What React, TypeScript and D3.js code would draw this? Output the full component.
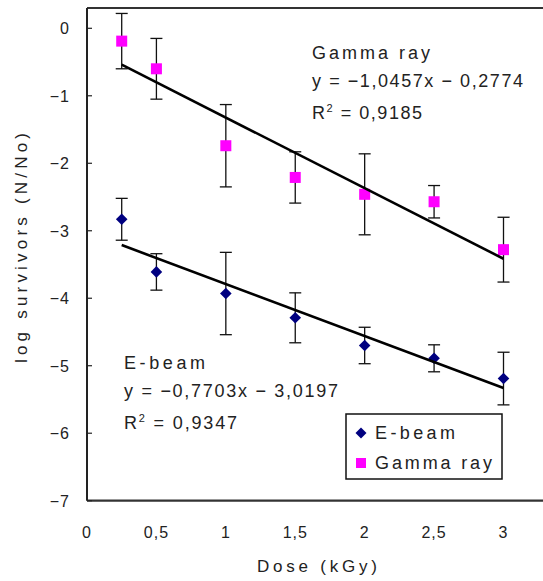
import React from "react";
import * as d3 from "d3";

const doses = [0.25, 0.5, 1, 1.5, 2, 2.5, 3];
const gammaMeans = [-0.19, -0.6, -1.74, -2.21, -2.46, -2.57, -3.28];
const gammaErr = [0.41, 0.45, 0.61, 0.38, 0.6, 0.24, 0.48];
const ebeamMeans = [-2.83, -3.61, -3.93, -4.29, -4.7, -4.89, -5.19];
const ebeamErr = [0.31, 0.27, 0.61, 0.37, 0.27, 0.2, 0.39];
const gammaFit = { slope: -1.0457, intercept: -0.2774, r2: "0,9185", eq: "y = −1,0457x − 0,2774" };
const ebeamFit = { slope: -0.7703, intercept: -3.0197, r2: "0,9347", eq: "y = −0,7703x − 3,0197" };
const xTickValues = [0, 0.5, 1, 1.5, 2, 2.5, 3];
const xTickLabels = ["0", "0,5", "1", "1,5", "2", "2,5", "3"];
const yTickValues = [0, -1, -2, -3, -4, -5, -6, -7];
const yTickLabels = ["0", "−1", "−2", "−3", "−4", "−5", "−6", "−7"];
const seriesNames = ["E-beam", "Gamma ray"];
const xTitle = "Dose (kGy)";
const yTitle = "log survivors (N/No)";

const W = 543;
const H = 581;
const FONT = "'Liberation Sans', Arial, sans-serif";

export default function App() {
  const x = d3.scaleLinear().domain([0, 3]).range([87, 503.5]);
  const y = d3.scaleLinear().domain([-7, 0]).range([500.7, 28.3]);
  const yTop = y.invert(8);
  const left = x(0);
  const bottom = y(-7);
  const top = y(yTop);

  const fitLine = (f: { slope: number; intercept: number }) => {
    const x0 = doses[0];
    const x1 = doses[doses.length - 1];
    return d3.line<number>()
      .x((d) => x(d))
      .y((d) => y(f.slope * d + f.intercept))([x0, x1]) as string;
  };

  const errBars = (means: number[], errs: number[], key: string) =>
    doses.map((d, i) => {
      const cx = x(d);
      const y1 = y(means[i] + errs[i]);
      const y2 = y(means[i] - errs[i]);
      return (
        <g key={key + i} stroke="#111" strokeWidth={1.3}>
          <line x1={cx} x2={cx} y1={y1} y2={y2} />
          <line x1={cx - 6} x2={cx + 6} y1={y1} y2={y1} />
          <line x1={cx - 6} x2={cx + 6} y1={y2} y2={y2} />
        </g>
      );
    });

  const diamond = (cx: number, cy: number, r: number) =>
    `M${cx},${cy - r}L${cx + r},${cy}L${cx},${cy + r}L${cx - r},${cy}Z`;

  return (
    <svg width={W} height={H} style={{ position: "absolute", left: 0, top: 0, background: "#fff" }} fontFamily={FONT}>
      <rect width={W} height={H} fill="#fff" />
      {/* frame */}
      <line x1={left} x2={W} y1={top} y2={top} stroke="#333" strokeWidth={2} />
      <line x1={left} x2={W} y1={bottom} y2={bottom} stroke="#333" strokeWidth={2.2} />
      <line x1={left} x2={left} y1={top} y2={bottom} stroke="#222" strokeWidth={2} />
      {/* y ticks */}
      {yTickValues.map((v, i) => (
        <g key={"yt" + i}>
          <line x1={left} x2={left + 5} y1={y(v)} y2={y(v)} stroke="#222" strokeWidth={1.2} />
          <text x={70} y={y(v) + 6} textAnchor="end" fontSize={16} letterSpacing={1} fill="#222">
            {yTickLabels[i]}
          </text>
        </g>
      ))}
      {/* x tick labels */}
      {xTickValues.map((v, i) => (
        <text key={"xt" + i} x={x(v)} y={538} textAnchor="middle" fontSize={16} letterSpacing={1} fill="#222">
          {xTickLabels[i]}
        </text>
      ))}
      {/* titles */}
      <text x={257} y={572} fontSize={17} fill="#222" textLength={120} lengthAdjust="spacing">
        {xTitle}
      </text>
      <text
        transform={`translate(27,${248 + 115}) rotate(-90)`}
        x={0}
        y={0}
        fontSize={17}
        fill="#222"
        textLength={230}
        lengthAdjust="spacing"
      >
        {yTitle}
      </text>
      {/* error bars */}
      {errBars(gammaMeans, gammaErr, "ge")}
      {errBars(ebeamMeans, ebeamErr, "ee")}
      {/* markers */}
      {doses.map((d, i) => (
        <rect key={"gm" + i} x={x(d) - 5.5} y={y(gammaMeans[i]) - 5.5} width={11} height={11} fill="#ff00ff" />
      ))}
      {doses.map((d, i) => (
        <path key={"em" + i} d={diamond(x(d), y(ebeamMeans[i]), 5.8)} fill="#000080" />
      ))}
      {/* trend lines */}
      <path d={fitLine(gammaFit)} stroke="#000" strokeWidth={2.6} fill="none" />
      <path d={fitLine(ebeamFit)} stroke="#000" strokeWidth={2.6} fill="none" />
      {/* annotations */}
      <g fill="#222" fontSize={18}>
        <text x={312} y={59} textLength={118} lengthAdjust="spacing">{seriesNames[1]}</text>
        <text x={312} y={87} textLength={211} lengthAdjust="spacing">{gammaFit.eq}</text>
        <text x={312} y={119} textLength={110} lengthAdjust="spacing">
          R<tspan dy={-7} fontSize={11}>2</tspan>
          <tspan dy={7}> = {gammaFit.r2}</tspan>
        </text>
        <text x={124} y={369} textLength={81} lengthAdjust="spacing">{seriesNames[0]}</text>
        <text x={124} y={397} textLength={214} lengthAdjust="spacing">{ebeamFit.eq}</text>
        <text x={124} y={429} textLength={113} lengthAdjust="spacing">
          R<tspan dy={-7} fontSize={11}>2</tspan>
          <tspan dy={7}> = {ebeamFit.r2}</tspan>
        </text>
      </g>
      {/* legend */}
      <rect x={346} y={414} width={156} height={65} fill="#fff" stroke="#111" strokeWidth={1.5} />
      <path d={diamond(361, 433, 5.5)} fill="#000080" />
      <rect x={356} y={458} width={10} height={10} fill="#ff00ff" />
      <g fill="#222" fontSize={18}>
        <text x={375} y={439} textLength={80} lengthAdjust="spacing">{seriesNames[0]}</text>
        <text x={375} y={469} textLength={117} lengthAdjust="spacing">{seriesNames[1]}</text>
      </g>
    </svg>
  );
}
